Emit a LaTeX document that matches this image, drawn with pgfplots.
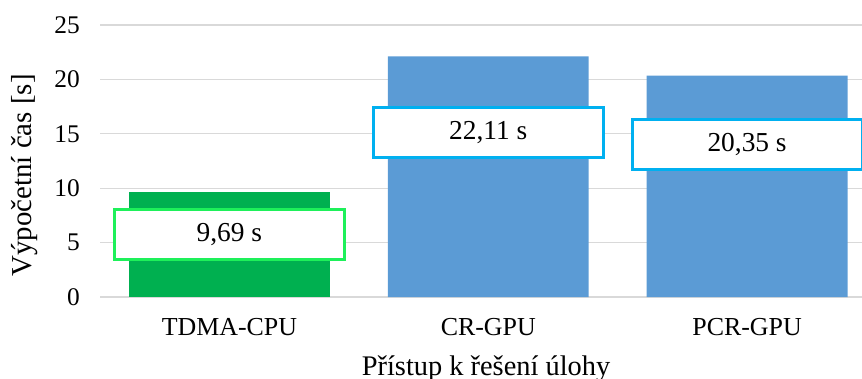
\documentclass[border=0pt]{standalone}
\usepackage{pgfplots}
\pgfplotsset{compat=1.18}
\usepackage{fontspec}
\setmainfont{Liberation Serif}

\definecolor{barGreen}{HTML}{00B050}
\definecolor{barBlue}{HTML}{5B9BD5}
\definecolor{edgeGreen}{HTML}{1EF05A}
\definecolor{edgeBlue}{HTML}{00B0F0}
\definecolor{gridGray}{HTML}{D9D9D9}

\begin{document}
\begin{tikzpicture}[x=1bp,y=1bp]
\path[use as bounding box] (0,0) rectangle (862,378);
\begin{axis}[
  at={(100bp,81bp)}, anchor=south west,
  scale only axis, width=762bp, height=272bp,
  xmin=-0.5, xmax=2.444, ymin=0, ymax=25,
  clip=false,
  axis line style={draw=none},
  ymajorgrids, grid style={gridGray, line width=1.2bp},
  major tick length=0pt,
  xtick={0,1,2}, xticklabels={TDMA-CPU,CR-GPU,PCR-GPU},
  ytick={0,5,10,15,20,25},
  /pgf/number format/assume math mode=true,
  xticklabel style={font=\fontsize{26}{28}\selectfont, anchor=base, inner sep=0pt, yshift=-38bp},
  yticklabel style={font=\fontsize{25.5}{28}\selectfont, anchor=east, inner sep=0pt, xshift=-20bp},
  xlabel={Přístup k řešení úlohy},
  ylabel={Výpočetní čas [s]},
  xlabel style={font=\fontsize{28.5}{30}\selectfont, at={(axis description cs:0.5066,-0.287)}, anchor=base, inner sep=0pt},
  ylabel style={font=\fontsize{29}{31}\selectfont, at={(axis description cs:-0.0984,0.447)}, anchor=center, inner sep=0pt},
  ybar, bar width=0.776,
]
\addplot[fill=barGreen, draw=none, bar shift=0pt] coordinates {(0,9.69)};
\addplot[fill=barBlue, draw=none, bar shift=0pt] coordinates {(1,22.11) (2,20.35)};

\tikzset{vlabel/.style={fill=white, line width=3bp, minimum width=230bp, minimum height=50bp,
  inner sep=0pt, font=\fontsize{27.5}{30}\selectfont}}
\node[vlabel, draw=edgeGreen] at (axis cs:0,5.70) {9,69 s};
\node[vlabel, draw=edgeBlue] at (axis cs:1,15.09) {22,11 s};
\node[vlabel, draw=edgeBlue] at (axis cs:2,14.03) {20,35 s};
\end{axis}
\end{tikzpicture}
\end{document}
